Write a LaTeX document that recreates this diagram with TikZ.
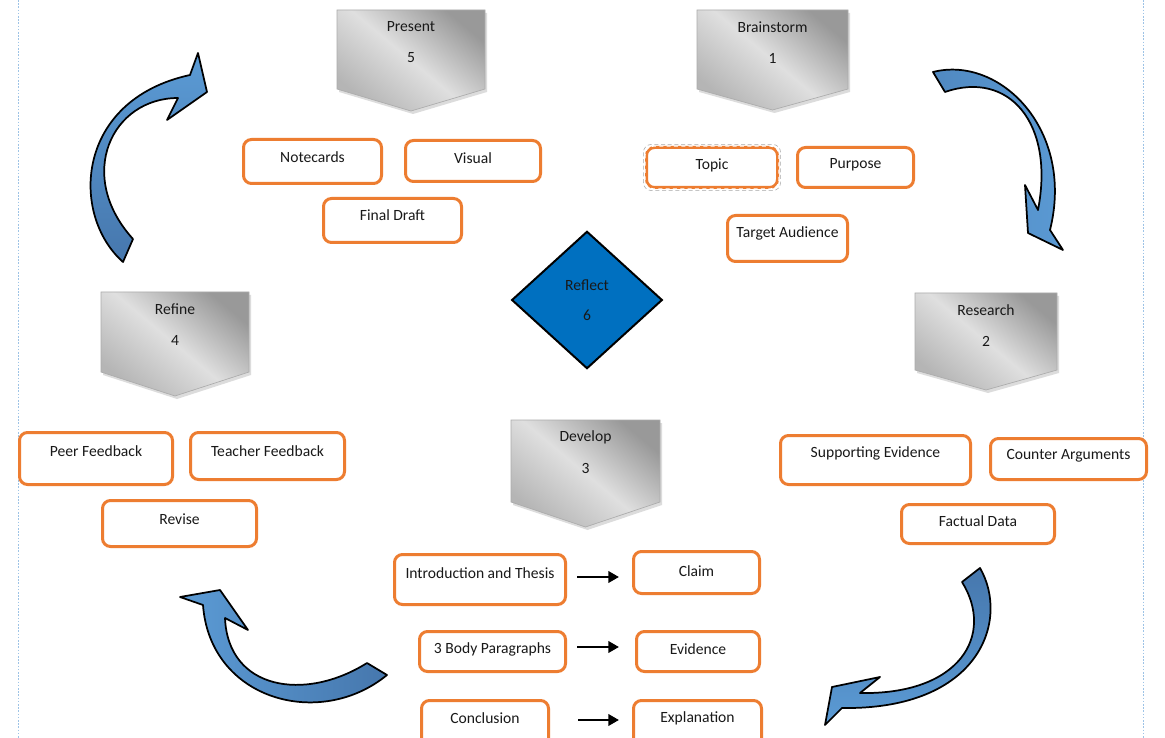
\documentclass[tikz,border=0pt]{standalone}
\usepackage{fontspec}
\setmainfont{Carlito}
\usetikzlibrary{shapes.geometric,arrows.meta}
\definecolor{oran}{HTML}{ED7D31}
\definecolor{dblue}{HTML}{0070C0}
\definecolor{ablue}{HTML}{5B9BD5}
\definecolor{ablue2}{HTML}{4677AD}
\definecolor{guide}{HTML}{9DC3E6}
\newcommand\mypent[8]{%
  \fill[gray!45, opacity=.6] ({#2+2},{#4+3}) -- ({#3+2},{#4+3}) -- ({#3+2},{#5+3}) -- ({(#2+#3)/2+2},{#6+3}) -- ({#2+2},{#5+3}) -- cycle;
  \path[pentsh] (#2,#4) -- (#3,#4) -- (#3,#5) -- ({(#2+#3)/2},#6) -- (#2,#5) -- cycle;
  \node[txt] (#1) at ({(#2+#3)/2},{#4+17}) {#7};
  \node[txt] (#1n) at ({(#2+#3)/2},{#4+48}) {#8};}
\newcommand\mybox[7]{%
  \node[obox, minimum width={(#4-#2-3)*0.75pt}, minimum height={(#5-#3-3)*0.75pt}] (#1) at ({(#2+#4)/2},{(#3+#5)/2}) {};
  \node[txt] (#1t) at ({(#2+#4)/2},#6) {#7};}
\begin{document}
\begin{tikzpicture}[x=0.75pt,y=-0.75pt,
  font=\fontsize{11.7}{13.5}\selectfont,
  obox/.style={draw=oran, line width=2.25pt, rounded corners=6pt, fill=white, inner sep=0pt},
  txt/.style={inner sep=0pt, text=black!90},
  curv/.style={draw=black, line width=1.3pt, line join=round},
  pentsh/.style={draw=gray!65, line width=0.5pt, top color=gray!80, bottom color=gray!58, middle color=gray!25, shading angle=-40},
  blk/.style={line width=2pt, -{Triangle[length=8pt,width=8.5pt]}}]
\useasboundingbox (0,0) rectangle (1165,738);
\fill[white] (0,0) rectangle (1165,738);
\draw[guide, line width=0.75pt, dash pattern=on 1.2pt off 1.2pt] (18,0) -- (18,738);
\draw[guide, line width=0.75pt, dash pattern=on 1.2pt off 1.2pt] (1143,0) -- (1143,738);
% pentagons
\mypent{present}{337}{485}{10}{89}{111}{Present}{5}
\mypent{brain}{697}{848}{10}{89}{110}{Brainstorm}{1}
\mypent{refine}{101}{249}{292}{372}{396}{Refine}{4}
\mypent{research}{915}{1057}{293}{370}{390}{Research}{2}
\mypent{develop}{511}{660}{420}{502}{527}{Develop}{3}
% orange boxes
\mybox{notecards}{242}{138}{383}{185}{157}{Notecards}
\mybox{visual}{404}{139}{542}{183}{158}{Visual}
\mybox{final}{322}{197}{463}{244}{215}{Final Draft}
\mybox{topic}{645}{146}{779}{189}{165}{Topic}
\draw[white, line width=0.7pt, dash pattern=on 3pt off 2.5pt, rounded corners=6pt] ([shift={(0.2pt,-0.2pt)}]topic.north west) rectangle ([shift={(-0.2pt,0.2pt)}]topic.south east);
\draw[gray!70, line width=0.4pt, dash pattern=on 3pt off 2pt, rounded corners=6pt] ([shift={(-1.2pt,1.2pt)}]topic.north west) rectangle ([shift={(1.2pt,-1.2pt)}]topic.south east);
\mybox{purpose}{796}{146}{915}{189}{165}{Purpose}
\mybox{target}{726}{214}{849}{263}{233}{Target Audience}
\mybox{peer}{18}{431}{174}{486}{451}{Peer Feedback}
\mybox{teacher}{189}{431}{346}{481}{451}{Teacher Feedback}
\mybox{revise}{101}{499}{258}{548}{519}{Revise}
\mybox{support}{779}{434}{972}{486}{453}{Supporting Evidence}
\mybox{counter}{989}{437}{1148}{481}{456}{Counter Arguments}
\mybox{factual}{900}{503}{1056}{545}{521}{Factual Data}
\mybox{intro}{393}{553}{567}{606}{573}{Introduction and Thesis}
\mybox{claim}{632}{550}{761}{595}{571}{Claim}
\mybox{body}{418}{630}{567}{673}{649}{3 Body Paragraphs}
\mybox{evid}{635}{630}{761}{673}{649}{Evidence}
\mybox{concl}{420}{699}{550}{748}{718}{Conclusion}
\mybox{expl}{632}{699}{763}{748}{718}{Explanation}
% black arrows
\draw[blk] ([xshift=7.5pt,yshift=-3pt]intro.east |- introt) -- ([xshift=-9.75pt,yshift=-3pt]claim.west |- introt);
\draw[blk] ([xshift=7.5pt,yshift=1.5pt]body.east |- bodyt) -- ([xshift=-12pt,yshift=1.5pt]evid.west |- bodyt);
\draw[blk] ([xshift=21pt,yshift=-1.5pt]concl.east |- conclt) -- ([xshift=-9.75pt,yshift=-1.5pt]expl.west |- conclt);
% diamond
\node[diamond, draw=black, line width=1.5pt, fill=dblue, minimum width=113pt, minimum height=103pt, inner sep=0pt, align=center, text=black!90] (reflect) at (587,300) {Reflect\\[9pt]6};
% curved arrows
\path[curv, top color=ablue, bottom color=ablue2] (123,262) .. controls (70,215) and (75,100) .. (190,75) -- (198,53) -- (207,92) -- (167,120) -- (178,98) .. controls (112,98) and (75,175) .. (133,239) -- cycle;
\path[curv, left color=ablue2!50!ablue, right color=ablue] (933,72) .. controls (1000,55) and (1075,130) .. (1050,230) -- (1063,250) -- (1028,233) -- (1025,185) -- (1038,210) .. controls (1055,122) and (1008,70) .. (945,92) -- cycle;
\path[curv, left color=ablue, right color=ablue2] (180,597) -- (203,605) .. controls (210,700) and (320,730) .. (387,675) -- (367,663) .. controls (305,702) and (228,690) .. (225,618) -- (248,630) -- (220,590) -- cycle;
\path[curv, top color=ablue2, bottom color=ablue] (980,568) .. controls (1010,620) and (980,710) .. (842,708) -- (825,725) -- (832,687) -- (880,677) -- (860,693) .. controls (960,695) and (995,635) .. (962,582) -- cycle;
\end{tikzpicture}
\end{document}
